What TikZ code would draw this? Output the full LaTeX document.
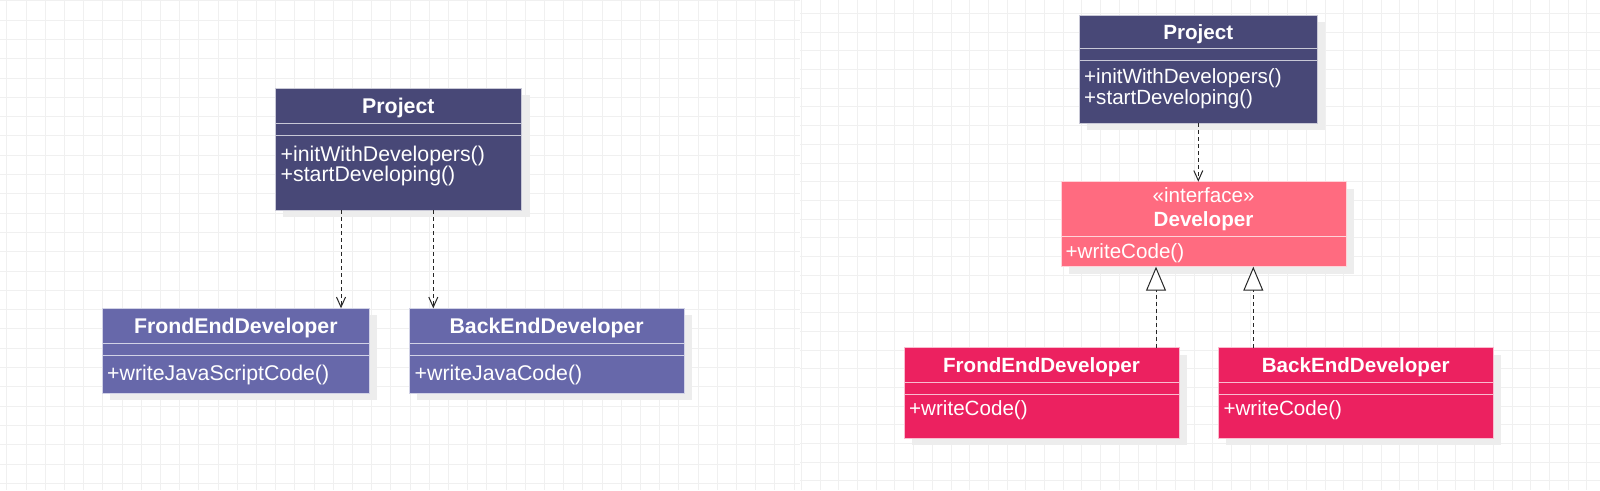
\documentclass[tikz,border=0pt]{standalone}
\usepackage{fontspec}
\setmainfont{Liberation Sans}
\usetikzlibrary{positioning,arrows.meta,shadows}
\definecolor{projnavy}{HTML}{484877}
\definecolor{devpurple}{HTML}{6768AA}
\definecolor{ifacepink}{HTML}{FF6B80}
\definecolor{implred}{HTML}{EC2160}
\newcommand\leftsize{\fontsize{21.3}{24}\selectfont}
\newcommand\rightsize{\fontsize{20.6}{23}\selectfont}
\tikzset{
  gridline/.style={draw=black!6, line width=0.7pt},
  compart/.style={fill=#1, draw=white!70!#1, line width=0.8pt, inner sep=0pt, outer sep=0pt,
    text=white, drop shadow={shadow xshift=8pt, shadow yshift=-7pt, fill=black!7, opacity=1}},
  classtitle/.style={compart=#1, font=\bfseries, text height=15pt, text depth=0pt, anchor=north west},
  optext/.style={text=white, inner sep=0pt, anchor=base west},
  dep/.style={draw=black!85, line width=1pt, dash pattern=on 4pt off 3pt,
    -{Straight Barb[length=10pt,width=9pt]}},
  real/.style={draw=black!85, line width=1pt, dash pattern=on 4pt off 3pt,
    -{Triangle[open,fill=white,length=24pt,width=20pt]}},
}

\begin{document}
\begin{tikzpicture}[x=1pt,y=-1pt]
\useasboundingbox (0,0) rectangle (1600,490);
\fill[white] (0,0) rectangle (1600,490);

% grid paper, left and right panel
\foreach \i in {0,...,41} \draw[gridline] (6.7+19.2*\i,0) -- (6.7+19.2*\i,490);
\foreach \j in {0,...,25} \draw[gridline] (0,0.7+19.3*\j) -- (800,0.7+19.3*\j);
\foreach \i in {0,...,42} \draw[gridline] (801.3+18.7*\i,0) -- (801.3+18.7*\i,490);
\foreach \j in {0,...,25} \draw[gridline] (800,13.3+18.7*\j) -- (1600,13.3+18.7*\j);

% without the interface
\begin{scope}
\leftsize
\node[classtitle=projnavy, minimum width=246.7pt, minimum height=35pt] (lproj) at (275,88.3) {Project};
\node[compart=projnavy, minimum width=246.7pt, minimum height=11.7pt, below=0pt of lproj] (lprojattr) {};
\node[compart=projnavy, minimum width=246.7pt, minimum height=75pt, below=0pt of lprojattr] (lprojops) {};
\node[optext] (lprojm1) at ([xshift=5.5pt,yshift=-26pt]lprojops.north west) {+initWithDevelopers()};
\node[optext] (lprojm2) at ([xshift=5.5pt,yshift=-46pt]lprojops.north west) {+startDeveloping()};

\node[classtitle=devpurple, minimum width=267pt, minimum height=35pt] (lfront) at (102.3,308.3) {FrondEndDeveloper};
\node[compart=devpurple, minimum width=267pt, minimum height=12.4pt, below=0pt of lfront] (lfrontattr) {};
\node[compart=devpurple, minimum width=267pt, minimum height=37.6pt, below=0pt of lfrontattr] (lfrontops) {};
\node[optext] (lfrontm) at ([xshift=4.7pt,yshift=-24.3pt]lfrontops.north west) {+writeJavaScriptCode()};

\node[classtitle=devpurple, minimum width=275.3pt, minimum height=35pt] (lback) at (409,308.3) {BackEndDeveloper};
\node[compart=devpurple, minimum width=275.3pt, minimum height=12.4pt, below=0pt of lback] (lbackattr) {};
\node[compart=devpurple, minimum width=275.3pt, minimum height=37.6pt, below=0pt of lbackattr] (lbackops) {};
\node[optext] (lbackm) at ([xshift=5.5pt,yshift=-24.3pt]lbackops.north west) {+writeJavaCode()};

\draw[dep] ([xshift=-57.35pt]lprojops.south) -- ([xshift=-57.35pt]lprojops.south |- lfront.north);
\draw[dep] ([xshift=34.95pt]lprojops.south) -- ([xshift=34.95pt]lprojops.south |- lback.north);
\end{scope}

% with the interface
\begin{scope}
\rightsize
\node[classtitle=projnavy, minimum width=238pt, minimum height=33.3pt] (rproj) at (1079.3,15) {Project};
\node[compart=projnavy, minimum width=238pt, minimum height=11.7pt, below=0pt of rproj] (rprojattr) {};
\node[compart=projnavy, minimum width=238pt, minimum height=63.3pt, below=0pt of rprojattr] (rprojops) {};
\node[optext] (rprojm1) at ([xshift=4.7pt,yshift=-23pt]rprojops.north west) {+initWithDevelopers()};
\node[optext] (rprojm2) at ([xshift=4.7pt,yshift=-44pt]rprojops.north west) {+startDeveloping()};

\node[compart=ifacepink, anchor=north west, minimum width=285pt, minimum height=55pt] (devhead) at (1061,181.7) {};
\node[compart=ifacepink, minimum width=285pt, minimum height=30pt, below=0pt of devhead] (devops) {};
\node[optext, anchor=base] (devstereo) at ([yshift=-21pt]devhead.north) {«interface»};
\node[optext, anchor=base, font=\bfseries] (devname) at ([yshift=-44.3pt]devhead.north) {Developer};
\node[optext] (devm) at ([xshift=4.5pt,yshift=-21.6pt]devops.north west) {+writeCode()};

\node[classtitle=implred, minimum width=275pt, minimum height=34.6pt] (rfront) at (904,347.7) {FrondEndDeveloper};
\node[compart=implred, minimum width=275pt, minimum height=11.7pt, below=0pt of rfront] (rfrontattr) {};
\node[compart=implred, minimum width=275pt, minimum height=44pt, below=0pt of rfrontattr] (rfrontops) {};
\node[optext] (rfrontm) at ([xshift=5pt,yshift=-21.7pt]rfrontops.north west) {+writeCode()};

\node[classtitle=implred, minimum width=274.7pt, minimum height=34.6pt] (rback) at (1218.3,347.7) {BackEndDeveloper};
\node[compart=implred, minimum width=274.7pt, minimum height=11.7pt, below=0pt of rback] (rbackattr) {};
\node[compart=implred, minimum width=274.7pt, minimum height=44pt, below=0pt of rbackattr] (rbackops) {};
\node[optext] (rbackm) at ([xshift=5pt,yshift=-21.7pt]rbackops.north west) {+writeCode()};

\draw[dep] (rprojops.south) -- (rprojops.south |- devhead.north);
\draw[real] ([xshift=114.5pt]rfront.north) -- ([xshift=114.5pt]rfront.north |- devops.south);
\draw[real] ([xshift=-102.35pt]rback.north) -- ([xshift=-102.35pt]rback.north |- devops.south);
\end{scope}
\end{tikzpicture}
\end{document}
